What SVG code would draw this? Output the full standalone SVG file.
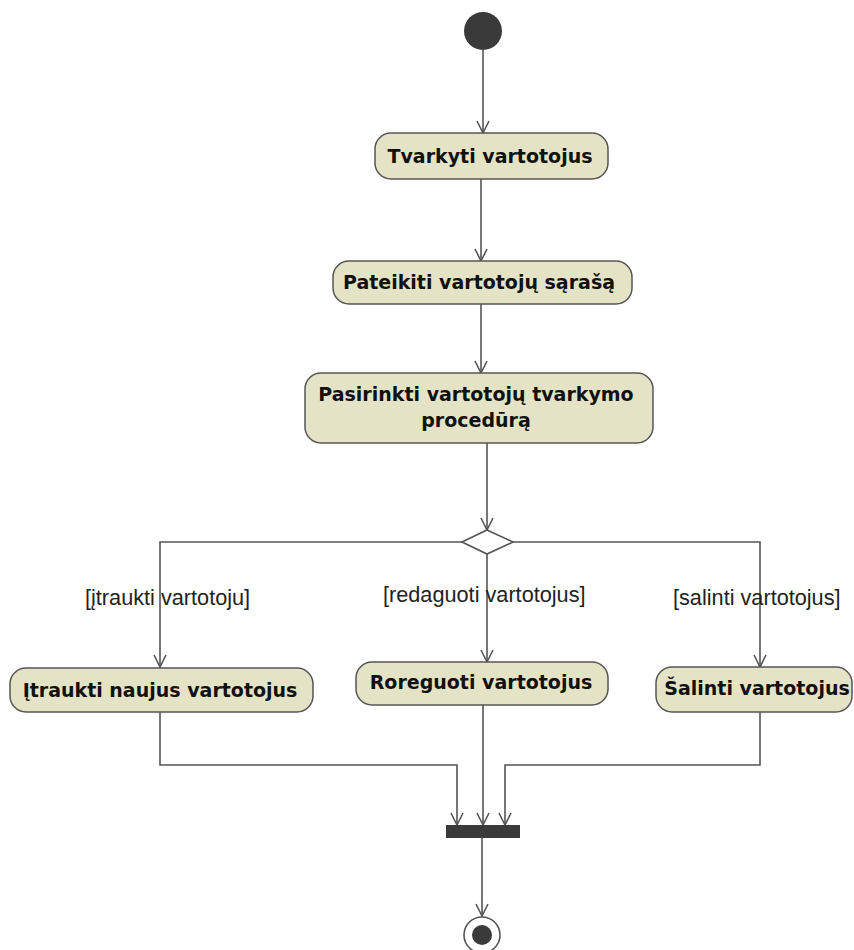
<svg xmlns="http://www.w3.org/2000/svg" width="854" height="950" viewBox="0 0 854 950">
  <style>
    .action { fill: #e4e3c6; stroke: #555555; stroke-width: 1.5; }
    .action-text { font-family: "DejaVu Sans", "Liberation Sans", sans-serif; font-weight: bold; font-size: 19px; fill: #111111; text-anchor: middle; }
    .guard { font-family: "Liberation Sans", Arial, sans-serif; font-size: 21.7px; fill: #222222; }
    .flow { fill: none; stroke: #555555; stroke-width: 1.6; }
    .solid { fill: #3a3a3a; }
  </style>
  <defs>
    <!-- open "V" arrowhead pointing along the line direction -->
    <marker id="open-arrow" viewBox="-14 -8 16 16" markerWidth="16" markerHeight="16" refX="0" refY="0" markerUnits="userSpaceOnUse" orient="auto">
      <path d="M-12,-6 L0,0 L-12,6" fill="none" stroke="#555555" stroke-width="1.6"/>
    </marker>
  </defs>

  <rect width="854" height="950" fill="#ffffff"/>

  <!-- connectors -->
  <g id="connectors" class="flow" marker-end="url(#open-arrow)">
    <path d="M483,50 V133"/>
    <path d="M481,179 V261"/>
    <path d="M481,304 V373"/>
    <path d="M487,443 V530"/>
    <path d="M462,542 H160 V667"/>
    <path d="M487,554 V662"/>
    <path d="M513,542 H760 V667"/>
    <path d="M160,712 V765 H457 V825"/>
    <path d="M483,705 V825"/>
    <path d="M760,712 V765 H505 V825"/>
    <path d="M482,838 V916"/>
  </g>

  <!-- guard labels -->
  <g id="guards">
    <text class="guard" x="85" y="605">[įtraukti vartotoju]</text>
    <text class="guard" x="383" y="602">[redaguoti vartotojus]</text>
    <text class="guard" x="673" y="605">[salinti vartotojus]</text>
  </g>

  <g id="start">
    <circle class="solid" cx="483" cy="31" r="19"/>
  </g>

  <g id="tvarkyti">
    <rect class="action" x="375" y="133" width="233" height="46" rx="16"/>
    <text class="action-text" x="490" y="163">Tvarkyti vartotojus</text>
  </g>

  <g id="pateikiti">
    <rect class="action" x="333" y="261" width="299" height="43" rx="16"/>
    <text class="action-text" x="479" y="289">Pateikiti vartotojų sąrašą</text>
  </g>

  <g id="pasirinkti">
    <rect class="action" x="305" y="373" width="348" height="70" rx="16"/>
    <text class="action-text" x="476" y="401">Pasirinkti vartotojų tvarkymo</text>
    <text class="action-text" x="476" y="427">procedūrą</text>
  </g>

  <g id="decision">
    <polygon points="487,530 513,542 487,554 462,542" fill="#ffffff" stroke="#555555" stroke-width="1.6"/>
  </g>

  <g id="itraukti">
    <rect class="action" x="10" y="668" width="303" height="44" rx="16"/>
    <text class="action-text" x="160" y="697">Įtraukti naujus vartotojus</text>
  </g>

  <g id="roreguoti">
    <rect class="action" x="356" y="662" width="252" height="43" rx="16"/>
    <text class="action-text" x="481" y="689">Roreguoti vartotojus</text>
  </g>

  <g id="salinti">
    <rect class="action" x="656" y="667" width="196" height="45" rx="16"/>
    <text class="action-text" x="757" y="695">Šalinti vartotojus</text>
  </g>

  <g id="join">
    <rect class="solid" x="446" y="825" width="74" height="13"/>
  </g>

  <g id="final">
    <circle cx="482" cy="935" r="18" fill="#ffffff" stroke="#555555" stroke-width="1.6"/>
    <circle class="solid" cx="482" cy="935" r="10"/>
  </g>
</svg>
